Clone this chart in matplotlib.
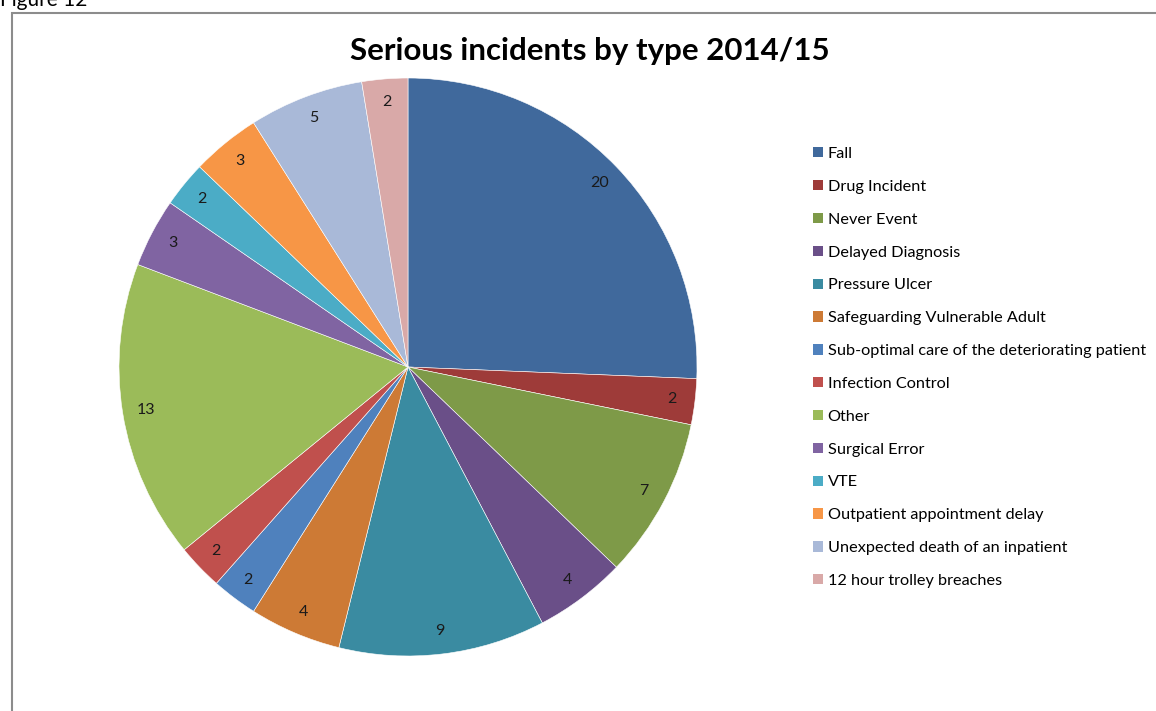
import matplotlib.pyplot as plt
from matplotlib.patches import Rectangle, Patch

plt.rcParams['font.family'] = ['Lato', 'DejaVu Sans']

categories = ['Fall', 'Drug Incident', 'Never Event', 'Delayed Diagnosis',
              'Pressure Ulcer', 'Safeguarding Vulnerable Adult',
              'Sub-optimal care of the deteriorating patient', 'Infection Control',
              'Other', 'Surgical Error', 'VTE', 'Outpatient appointment delay',
              'Unexpected death of an inpatient', '12 hour trolley breaches']
counts = [20, 2, 7, 4, 9, 4, 2, 2, 13, 3, 2, 3, 5, 2]
colors = ['#40699C', '#9E3B39', '#7E9A48', '#6A4F88', '#3A8BA1', '#CD7A35',
          '#4F81BD', '#C0504D', '#9BBB59', '#8064A2', '#4BACC6', '#F79646',
          '#A9B9D8', '#D9A9A8']

W, H = 1156, 711
fig = plt.figure(figsize=(W / 100, H / 100), dpi=100)

# chart border (partly cut off by the page crop)
fig.patches.append(Rectangle((12 / W, -0.05), 1.2, 1 - 13 / H + 0.05,
                             transform=fig.transFigure, fill=False,
                             edgecolor='#8C8C8C', linewidth=1.5))
fig.text(0, 1 - 6 / H, 'Figure 12', fontsize=15, ha='left', va='baseline')

fig.text(590 / W, 1 - 51 / H, 'Serious incidents by type 2014/15',
         fontsize=22.5, fontweight='bold', ha='center', va='center')

cx, cy, r = 408, 367, 289
ax = fig.add_axes([(cx - r) / W, (H - cy - r) / H, 2 * r / W, 2 * r / H])
total = sum(counts)
wedges, _, autotexts = ax.pie(counts, colors=colors, startangle=90, counterclock=False,
                              autopct=lambda p: f'{round(p * total / 100)}',
                              pctdistance=0.92,
                              wedgeprops=dict(edgecolor='#ffffff', linewidth=0.4))
for t in autotexts:
    t.set_fontsize(11.5)
    t.set_color('#1a1a1a')
ax.set_xlim(-1, 1)
ax.set_ylim(-1, 1)
ax.set_aspect('equal')

handles = [Patch(facecolor=c, edgecolor='none') for c in colors]
fig.legend(handles, categories, loc='upper left',
           bbox_to_anchor=(813 / W, 1 - 147 / H), frameon=False,
           fontsize=11.7, handlelength=0.6, handleheight=0.6, handletextpad=0.3,
           labelspacing=1.16, borderaxespad=0, borderpad=0)

fig.savefig('out.png', dpi=100)
